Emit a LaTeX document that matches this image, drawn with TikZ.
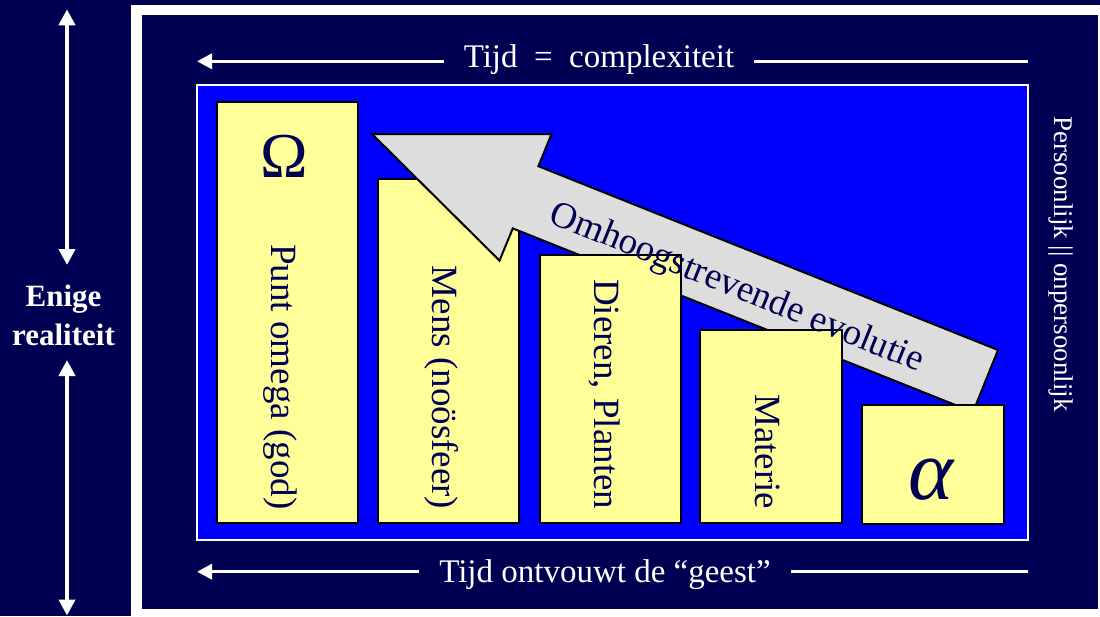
\documentclass[tikz,border=0pt]{standalone}
\usepackage{fontspec}
\setmainfont{Liberation Serif}
\usetikzlibrary{arrows.meta}
\definecolor{navy}{HTML}{000052}
\definecolor{pblue}{HTML}{0000FF}
\definecolor{pyellow}{HTML}{FFFF99}
\definecolor{pgray}{HTML}{DDDDDD}
\begin{document}
\begin{tikzpicture}[x=1pt,y=-1pt,
  stage/.style={draw=black, line width=2pt, fill=pyellow, inner sep=0pt, anchor=north west},
  lbl/.style={text=navy, font=\fontsize{37}{44}\selectfont, rotate=-90, anchor=base east, inner sep=0pt},
  wline/.style={draw=white, line width=3.5pt},
  wtip/.style={-{Triangle[length=15pt,width=15pt]}},
  vline/.style={draw=white, line width=4.5pt, {Triangle[length=16pt,width=16pt]}-{Triangle[length=16pt,width=16pt]}},
  titletext/.style={text=white, font=\fontsize{33}{40}\selectfont, anchor=base, inner xsep=20pt, inner ysep=0pt},
  sidetext/.style={text=white, font=\bfseries\fontsize{31}{38}\selectfont, anchor=base, inner sep=0pt},
  greek/.style={text=navy, anchor=base, inner sep=0pt}
]
\useasboundingbox (0,0) rectangle (1100,616);
\fill[navy] (0,0) rectangle (1100,616);
\fill[white] (131,5) rectangle (1100,616);
\fill[navy] (142,15) rectangle (1098,609);
\draw[white, line width=1.5pt, fill=pblue] (197,85) rectangle (1028,540);

% left side
\node[sidetext] (enige) at (63.5,306.7) {Enige};
\node[sidetext] (real) at (63.5,345) {realiteit};
\coordinate (va) at (67,9.3);
\coordinate (vb) at (67,265);
\coordinate (vc) at (67,360);
\coordinate (vd) at (67,615.5);
\draw[vline] (va) -- (vb);
\draw[vline] (vc) -- (vd);

% top title
\node[titletext] (ttop) at (599,67) {Tijd\ \ =\ \ complexiteit};
\coordinate (tl) at (197,61.3);
\coordinate (tr) at (1028,61.3);
\draw[wline, wtip] (ttop.west |- tl) -- (tl);
\draw[wline] (ttop.east |- tr) -- (tr);

% bottom title
\node[titletext] (tbot) at (605,582) {Tijd ontvouwt de “geest”};
\coordinate (bl) at (197,571.7);
\coordinate (br) at (1028,571.7);
\draw[wline, wtip] (tbot.west |- bl) -- (bl);
\draw[wline] (tbot.east |- br) -- (br);

% right text
\node[text=white, font=\fontsize{27}{32}\selectfont, rotate=-90, anchor=base, inner sep=0pt] (pers) at (1054,264) {Persoonlijk || onpersoonlijk};

% stages
\node[stage, minimum width=141pt, minimum height=421pt] (b1) at (216,101) {};
\node[stage, minimum width=141pt, minimum height=344pt] (b2) at (377,178) {};
\draw[black, line width=2pt, fill=pgray, line join=miter]
  (372,134) -- (551.5,134) -- (538.4,166.2) -- (998,350) -- (973,412)
  -- (512.8,228.4) -- (499.5,260.6) -- cycle;
\node[stage, minimum width=141pt, minimum height=268pt] (b3) at (539,254) {};
\node[stage, minimum width=142pt, minimum height=193pt] (b4) at (699,329) {};
\node[stage, minimum width=142pt, minimum height=119pt] (b5) at (861,404) {};

\node[greek, font=\fontsize{64}{70}\selectfont] (omega) at (284,177) {Ω};
\node[greek, font=\itshape\fontsize{86}{90}\selectfont] (alpha) at (931,499) {α};

\node[lbl] (l1) at (271.5,509.5) {Punt omega (god)};
\node[lbl] (l2) at (432.5,509.5) {Mens (noösfeer)};
\node[lbl] (l3) at (594.5,509.5) {Dieren, Planten};
\node[lbl] (l4) at (755,509.5) {Materie};

\node[text=navy, font=\fontsize{37}{44}\selectfont, rotate=-22, anchor=base, inner sep=0pt] (evo) at (733,297) {Omhoogstrevende evolutie};
\end{tikzpicture}
\end{document}
